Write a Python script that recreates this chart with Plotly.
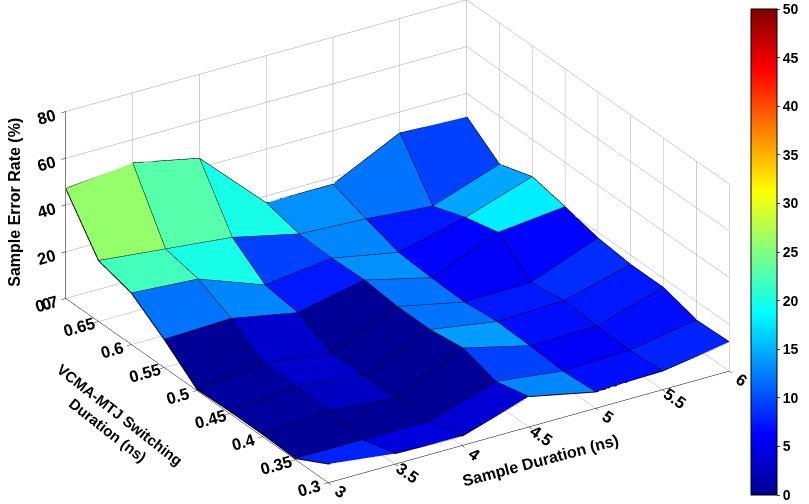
import plotly.graph_objects as go

# Sample duration (ns) along x, VCMA-MTJ switching duration (ns) along y
sample_duration = [3, 3.5, 4, 4.5, 5, 5.5, 6]
switch_duration = [0.3, 0.35, 0.4, 0.45, 0.5, 0.55, 0.6, 0.65, 0.7]

# Sample error rate (%), one row per switching duration
err_030 = [8, 4.5, 4, 13, 7, 8, 12.5]
err_035 = [0.5, 0.5, 0.5, 9.5, 6, 7, 12]
err_040 = [1, 3, 0.5, 14, 7, 7.5, 16]
err_045 = [1, 3.5, 0.5, 12, 7.5, 8.5, 16]
err_050 = [0.5, 3.5, 0.5, 12, 6, 6.5, 17.5]
err_055 = [12, 13, 7.5, 13.5, 6.5, 18, 21]
err_060 = [22, 20, 9.5, 13, 7.5, 14.5, 24]
err_065 = [26, 23, 20, 13.5, 12, 9.5, 19.5]
err_070 = [47, 50, 44, 17, 17, 31, 30]
error_rate = [err_030, err_035, err_040, err_045, err_050,
              err_055, err_060, err_065, err_070]

x_ticks = [3, 3.5, 4, 4.5, 5, 5.5, 6]
y_ticks = [0.3, 0.35, 0.4, 0.45, 0.5, 0.55, 0.6, 0.65, 0.7]
z_ticks = [0, 20, 40, 60, 80]
cbar_ticks = [0, 5, 10, 15, 20, 25, 30, 35, 40, 45, 50]

# MATLAB style jet colormap
jet = [[0.0, "#00008f"], [0.125, "#0000ff"], [0.375, "#00ffff"],
       [0.625, "#ffff00"], [0.875, "#ff0000"], [1.0, "#800000"]]

nx = len(sample_duration)
ny = len(switch_duration)

# vertices of the surface grid
vx, vy, vz = [], [], []
for j in range(ny):
    for i in range(nx):
        vx.append(sample_duration[i])
        vy.append(switch_duration[j])
        vz.append(error_rate[j][i])

# two triangles per patch, flat colour taken from the first corner (like surf)
ti, tj, tk, face_val = [], [], [], []
for j in range(ny - 1):
    for i in range(nx - 1):
        a = j * nx + i
        b = a + 1
        c = a + nx + 1
        d = a + nx
        ti += [a, a]
        tj += [b, c]
        tk += [c, d]
        face_val += [error_rate[j][i]] * 2

# black mesh edges
lx, ly, lz = [], [], []
for j in range(ny):
    for i in range(nx):
        lx.append(sample_duration[i]); ly.append(switch_duration[j]); lz.append(error_rate[j][i])
    lx.append(None); ly.append(None); lz.append(None)
for i in range(nx):
    for j in range(ny):
        lx.append(sample_duration[i]); ly.append(switch_duration[j]); lz.append(error_rate[j][i])
    lx.append(None); ly.append(None); lz.append(None)

bold = dict(family="Liberation Sans, Arial, sans-serif", size=14, color="black", weight="bold")
title_font = dict(family="Liberation Sans, Arial, sans-serif", size=16, color="black", weight="bold")

fig = go.Figure()
fig.add_trace(go.Mesh3d(
    x=vx, y=vy, z=vz, i=ti, j=tj, k=tk,
    intensity=face_val, intensitymode="cell",
    colorscale=jet, cmin=0, cmax=50,
    flatshading=True,
    lighting=dict(ambient=1, diffuse=0, specular=0, fresnel=0, roughness=1),
    colorbar=dict(
        x=0.934, xanchor="left", y=0.5, yanchor="middle",
        len=0.965, lenmode="fraction", thickness=26, ypad=0,
        tickvals=cbar_ticks, ticks="outside", ticklen=3,
        tickfont=bold, outlinecolor="black", outlinewidth=1,
    ),
    hoverinfo="skip",
))
fig.add_trace(go.Scatter3d(
    x=lx, y=ly, z=lz, mode="lines",
    line=dict(color="black", width=2),
    hoverinfo="skip", showlegend=False,
))

axis_common = dict(
    showbackground=False, gridcolor="#a0a0a0", gridwidth=1,
    showline=True, linecolor="black", linewidth=1,
    zeroline=False, ticks="outside", tickcolor="black",
    tickfont=bold, showspikes=False, title=dict(text=""),
)

scale = 1.88
du = (-0.010, -0.016, -0.038)
fig.update_layout(
    width=809, height=504,
    paper_bgcolor="white",
    margin=dict(l=0, r=0, t=0, b=0),
    showlegend=False,
    scene=dict(
        domain=dict(x=[0.036, 0.966], y=[0, 1]),
        xaxis=dict(range=[3, 6], tickvals=x_ticks, **axis_common),
        yaxis=dict(range=[0.3, 0.7], tickvals=y_ticks, **axis_common),
        zaxis=dict(range=[0, 80], tickvals=z_ticks, **axis_common),
        aspectmode="manual",
        aspectratio=dict(x=1 * scale, y=1.04 * scale, z=0.44 * scale),
        camera=dict(
            projection=dict(type="orthographic"),
            eye=dict(x=-0.478 * 2 + du[0], y=-0.759 * 2 + du[1], z=0.442 * 2 + du[2]),
            up=dict(x=0, y=0, z=1),
            center=dict(x=du[0], y=du[1], z=du[2]),
        ),
    ),
    annotations=[
        dict(x=551 / 809, y=1 - 460 / 504, xref="paper", yref="paper",
             xanchor="center", yanchor="middle",
             text="Sample Duration (ns)", textangle=-15, showarrow=False, font=title_font),
        dict(x=116 / 809, y=1 - 422 / 504, xref="paper", yref="paper",
             xanchor="center", yanchor="middle",
             text="VCMA-MTJ Switching<br>Duration (ns)", textangle=38,
             showarrow=False, font=dict(title_font, size=15)),
        dict(x=14 / 809, y=1 - 202 / 504, xref="paper", yref="paper",
             xanchor="center", yanchor="middle",
             text="Sample Error Rate (%)", textangle=-90, showarrow=False, font=title_font),
    ],
)

fig.write_html("out.html", config={"displayModeBar": False},
               post_script="document.body.style.margin='0';")
